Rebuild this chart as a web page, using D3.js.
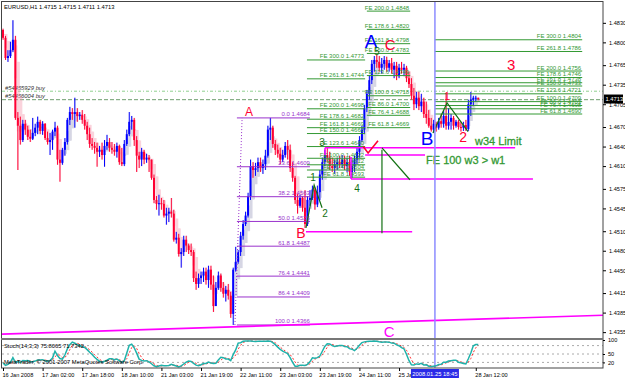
<!DOCTYPE html>
<html>
<head>
<meta charset="utf-8">
<script src="https://cdn.jsdelivr.net/npm/d3@7"></script>
<style>
  html, body { margin: 0; padding: 0; background: #fff; }
  svg { display: block; font-family: "Liberation Sans", Arial, sans-serif; }
</style>
</head>
<body>
<svg id="chart" width="625" height="378"></svg>
<script>
const WIDTH = 625,
      HEIGHT = 378,
      RIGHT = 603,
      MAIN_TOP = 2,
      MAIN_BOTTOM = 338,
      IND_TOP = 340,
      IND_BOTTOM = 368;

// EURUSD H1, one bar per hour from 16 Jan 10:00 (open of each bar = previous close)
const firstOpen = 1.4819;
const highs = [
  1.4821,1.4810,1.4788,1.4801,1.4834,1.4810,1.4693,1.4686,1.4681,1.4681,
  1.4672,1.4666,1.4684,1.4675,1.4686,1.4681,1.4679,1.4676,1.4663,1.4661,
  1.4666,1.4678,1.4672,1.4635,1.4638,1.4653,1.4684,1.4701,1.4699,1.4715,
  1.4699,1.4693,1.4696,1.4690,1.4678,1.4669,1.4653,1.4647,1.4646,1.4641,
  1.4646,1.4650,1.4658,1.4653,1.4647,1.4644,1.4646,1.4643,1.4638,1.4650,
  1.4666,1.4693,1.4687,1.4684,1.4656,1.4632,1.4638,1.4635,1.4629,1.4627,
  1.4620,1.4597,1.4564,1.4566,1.4561,1.4558,1.4546,1.4546,1.4561,1.4543,
  1.4509,1.4506,1.4484,1.4503,1.4503,1.4491,1.4491,1.4481,1.4448,1.4445,
  1.4448,1.4454,1.4454,1.4457,1.4457,1.4442,1.4432,1.4448,1.4445,1.4432,
  1.4426,1.4429,1.4417,1.4454,1.4486,1.4481,1.4509,1.4527,1.4540,1.4569,
  1.4620,1.4616,1.4615,1.4623,1.4623,1.4620,1.4635,1.4672,1.4684,1.4672,
  1.4650,1.4643,1.4638,1.4635,1.4647,1.4650,1.4643,1.4616,1.4595,1.4567,
  1.4566,1.4564,1.4573,1.4564,1.4573,1.4580,1.4577,1.4580,1.4604,1.4623,
  1.4635,1.4638,1.4632,1.4623,1.4620,1.4623,1.4626,1.4627,1.4626,1.4623,
  1.4626,1.4620,1.4626,1.4638,1.4656,1.4672,1.4704,1.4727,1.4750,1.4773,
  1.4779,1.4781,1.4779,1.4776,1.4779,1.4778,1.4773,1.4776,1.4770,1.4770,
  1.4767,1.4770,1.4767,1.4764,1.4755,1.4745,1.4730,1.4724,1.4724,1.4721,
  1.4715,1.4709,1.4696,1.4684,1.4681,1.4678,1.4684,1.4690,1.4696,1.4722,
  1.4699,1.4690,1.4687,1.4681,1.4681,1.4678,1.4678,1.4681,1.4712,1.4724,
  1.4718,1.4718,1.4715
];
const lows = [
  1.4804,1.4773,1.4770,1.4776,1.4785,1.4681,1.4604,1.4643,1.4647,1.4658,
  1.4650,1.4647,1.4650,1.4656,1.4659,1.4659,1.4658,1.4650,1.4643,1.4627,
  1.4635,1.4656,1.4612,1.4586,1.4612,1.4626,1.4643,1.4673,1.4681,1.4669,
  1.4678,1.4681,1.4675,1.4666,1.4650,1.4638,1.4635,1.4629,1.4609,1.4624,
  1.4620,1.4609,1.4635,1.4632,1.4629,1.4626,1.4623,1.4612,1.4610,1.4610,
  1.4641,1.4656,1.4666,1.4641,1.4601,1.4607,1.4610,1.4613,1.4615,1.4601,
  1.4589,1.4553,1.4543,1.4534,1.4543,1.4531,1.4520,1.4524,1.4531,1.4494,
  1.4491,1.4471,1.4454,1.4472,1.4478,1.4475,1.4472,1.4432,1.4420,1.4423,
  1.4429,1.4432,1.4428,1.4423,1.4420,1.4386,1.4405,1.4420,1.4417,1.4408,
  1.4402,1.4405,1.4377,1.4366,1.4448,1.4460,1.4472,1.4497,1.4518,1.4531,
  1.4558,1.4592,1.4595,1.4601,1.4601,1.4598,1.4604,1.4623,1.4650,1.4638,
  1.4627,1.4623,1.4613,1.4616,1.4623,1.4620,1.4601,1.4586,1.4552,1.4537,
  1.4546,1.4540,1.4515,1.4518,1.4549,1.4558,1.4543,1.4547,1.4558,1.4589,
  1.4610,1.4616,1.4604,1.4601,1.4598,1.4604,1.4607,1.4607,1.4604,1.4601,
  1.4595,1.4592,1.4601,1.4613,1.4623,1.4647,1.4659,1.4693,1.4712,1.4736,
  1.4755,1.4761,1.4755,1.4752,1.4758,1.4755,1.4755,1.4752,1.4745,1.4742,
  1.4745,1.4752,1.4748,1.4739,1.4730,1.4712,1.4696,1.4699,1.4696,1.4693,
  1.4684,1.4675,1.4669,1.4663,1.4661,1.4663,1.4666,1.4669,1.4669,1.4666,
  1.4666,1.4666,1.4666,1.4669,1.4666,1.4663,1.4664,1.4664,1.4664,1.4687,
  1.4702,1.4709,1.4711
];
const closes = [
  1.4807,1.4776,1.4779,1.4788,1.4804,1.4684,1.4672,1.4650,1.4675,1.4666,
  1.4655,1.4652,1.4661,1.4669,1.4678,1.4664,1.4675,1.4653,1.4647,1.4650,
  1.4663,1.4669,1.4620,1.4615,1.4635,1.4647,1.4681,1.4693,1.4690,1.4693,
  1.4687,1.4689,1.4681,1.4672,1.4659,1.4644,1.4641,1.4638,1.4632,1.4635,
  1.4627,1.4641,1.4647,1.4638,1.4635,1.4632,1.4641,1.4616,1.4613,1.4644,
  1.4659,1.4678,1.4681,1.4650,1.4626,1.4620,1.4632,1.4620,1.4623,1.4620,
  1.4592,1.4558,1.4552,1.4553,1.4552,1.4534,1.4537,1.4540,1.4537,1.4497,
  1.4500,1.4475,1.4478,1.4497,1.4488,1.4481,1.4478,1.4438,1.4429,1.4438,
  1.4442,1.4448,1.4435,1.4451,1.4428,1.4395,1.4423,1.4442,1.4423,1.4414,
  1.4420,1.4411,1.4383,1.4451,1.4463,1.4478,1.4503,1.4521,1.4534,1.4564,
  1.4610,1.4604,1.4607,1.4616,1.4607,1.4613,1.4626,1.4666,1.4669,1.4644,
  1.4635,1.4629,1.4620,1.4627,1.4641,1.4635,1.4607,1.4592,1.4558,1.4549,
  1.4561,1.4546,1.4521,1.4558,1.4561,1.4574,1.4551,1.4570,1.4597,1.4616,
  1.4627,1.4623,1.4610,1.4607,1.4613,1.4616,1.4613,1.4620,1.4610,1.4616,
  1.4601,1.4610,1.4620,1.4632,1.4650,1.4666,1.4699,1.4721,1.4742,1.4767,
  1.4773,1.4770,1.4761,1.4767,1.4773,1.4761,1.4768,1.4758,1.4764,1.4748,
  1.4761,1.4758,1.4761,1.4745,1.4736,1.4718,1.4705,1.4715,1.4702,1.4709,
  1.4690,1.4684,1.4672,1.4666,1.4675,1.4669,1.4679,1.4675,1.4687,1.4672,
  1.4678,1.4684,1.4672,1.4678,1.4670,1.4669,1.4673,1.4667,1.4705,1.4712,
  1.4715,1.4715,1.4713
];

const yTicks = [1.4830, 1.4800, 1.4765, 1.4735, 1.4705, 1.4670, 1.4640, 1.4610,
                1.4575, 1.4545, 1.4510, 1.4480, 1.4450, 1.4415, 1.4385, 1.4355];
const xTickBars = [0, 16, 32, 48, 64, 80, 96, 112, 128, 144, 160, 191];
const xTickLabels = ['16 Jan 2008', '17 Jan 02:00', '17 Jan 18:00', '18 Jan 10:00', '21 Jan 03:00',
                     '21 Jan 19:00', '22 Jan 11:00', '23 Jan 03:00', '23 Jan 19:00', '24 Jan 11:00',
                     '25 Jan 03:00', '28 Jan 12:00'];

// Fibonacci retracement A-B
const fibLevels = [0.0, 23.6, 38.2, 50.0, 61.8, 76.4, 86.4, 100.0];
const fibPrices = [1.4684, 1.4609, 1.4563, 1.4525, 1.4487, 1.4441, 1.4409, 1.4366];
const fibBars = [94.5, 124];

// Fibonacci expansions
const feLeftLevels = [300.0, 261.8, 200.0, 178.6, 161.8, 150.0, 123.6, 100.0, 86.0, 76.4, 61.8];
const feLeftPrices = [1.4773, 1.4744, 1.4698, 1.4682, 1.4669, 1.4660, 1.4640, 1.4622, 1.4612, 1.4604, 1.4593];
const feLeftBars = [122.8, 146.3];
const feMidLevels = [200.0, 178.6, 161.8, 150.0, 123.6, 100.0, 86.0, 76.4, 61.8];
const feMidPrices = [1.4848, 1.4820, 1.4798, 1.4783, 1.4749, 1.4718, 1.4700, 1.4688, 1.4669];
const feMidBars = [147, 164.5];
const feRightLevels = [300.0, 261.8, 200.0, 178.6, 161.8, 150.0, 123.6, 100.0, 86.0, 76.4, 61.8];
const feRightPrices = [1.4804, 1.4786, 1.4756, 1.4746, 1.4738, 1.4733, 1.4721, 1.4709, 1.4703, 1.4698, 1.4690];
const feRightBars = [174.5, 234];

// limit lines
const limitPrices = [1.4638, 1.4627, 1.4590, 1.4509];
const limitFrom = [130.1, 146.3, 140.6, 122.4];
const limitTo = [206.9, 170.5, 214.1, 165.3];

// wave labels
const waveTexts = ['A', 'B', 'C', 'A', 'C', '5', 'B', '1', '2', '3', '1', '2', '3', '4', 'w34 Limit', 'FE 100  w3 > w1'];
const waveBars = [99.4, 120.4, 156, 148.7, 156.4, 151, 171.3, 179.4, 185.9, 205.3, 125.3, 130.1, 128.9, 143, 190.7, 170.9];
const wavePrices = [1.4687, 1.4500, 1.4348, 1.4791, 1.4788, 1.4781, 1.4643, 1.4712, 1.4647, 1.4758, 1.4587, 1.4532, 1.4641, 1.4570, 1.4643, 1.4613];

const orderNames = ['#54455929 buy', '#54456004 buy'];
const orderPrices = [1.4725, 1.4712];
const lastPrice = 1.4713;
const cursorBar = 174.5;
const cursorLabel = '2008.01.25 18:45';
const trendBars = [-0.4, 242.4], trendPrices = [1.4352, 1.4381];

const RED = '#ff0033', BLUE = '#0000ff', GREEN = '#339933', DKGREEN = '#127012',
      VIOLET = '#9932cc', MAGENTA = '#ff00ff';
const waveStyle = [
  [RED, 12], [RED, 14], [MAGENTA, 15], [BLUE, 19], [RED, 15], [DKGREEN, 10], [BLUE, 19],
  [RED, 10], [RED, 14], [RED, 15], [DKGREEN, 10], [DKGREEN, 10], [DKGREEN, 10], [DKGREEN, 10],
  [GREEN, 11], [GREEN, 11]
];

const svg = d3.select('#chart');
const x = d3.scaleLinear().domain([0, 242.4]).range([3, RIGHT]);
const y = d3.scaleLinear().domain([1.4346, 1.4862]).range([MAIN_BOTTOM, MAIN_TOP]);
const yInd = d3.scaleLinear().domain([0, 100]).range([IND_BOTTOM, IND_TOP]);

svg.append('rect').attr('width', WIDTH).attr('height', HEIGHT).attr('fill', '#fff');

svg.append('clipPath').attr('id', 'mainClip')
  .append('rect').attr('x', 2).attr('y', MAIN_TOP).attr('width', RIGHT - 2).attr('height', MAIN_BOTTOM - MAIN_TOP);

const main = svg.append('g').attr('clip-path', 'url(#mainClip)');

const opens = closes.map((c, i) => i === 0 ? firstOpen : closes[i - 1]);

// order lines
main.selectAll('line.order').data(orderPrices).enter().append('line')
  .attr('x1', 2).attr('x2', RIGHT)
  .attr('y1', d => y(d)).attr('y2', d => y(d))
  .attr('stroke', (d, i) => i === 0 ? '#8fd08f' : '#6f9f6f')
  .attr('stroke-dasharray', (d, i) => i === 0 ? '3,2,1,2' : '4,2');
main.selectAll('text.order').data(orderNames).enter().append('text')
  .attr('x', 5).attr('y', (d, i) => y(orderPrices[i]) - 1.5)
  .attr('font-size', 5.8).attr('font-style', 'italic').attr('fill', '#333').text(d => d);

// heiken ashi ghost bars
const haClose = closes.map((c, i) => (opens[i] + highs[i] + lows[i] + c) / 4);
const haOpen = [];
closes.forEach((c, i) => {
  haOpen.push(i === 0 ? (opens[0] + c) / 2 : (haOpen[i - 1] + haClose[i - 1]) / 2);
});
const ghost = main.append('g').attr('opacity', 0.42);
closes.forEach((c, i) => {
  const up = haClose[i] >= haOpen[i];
  const col = up ? '#a0a0c0' : '#f598ae';
  const hh = Math.max(highs[i], haOpen[i]), ll = Math.min(lows[i], haOpen[i]);
  ghost.append('line').attr('x1', x(i) + 0.5).attr('x2', x(i) + 0.5)
    .attr('y1', y(hh)).attr('y2', y(ll)).attr('stroke', col).attr('stroke-width', 1);
  const top = y(Math.max(haOpen[i], haClose[i])), bot = y(Math.min(haOpen[i], haClose[i]));
  ghost.append('rect').attr('x', x(i) - 1).attr('width', 3)
    .attr('y', top).attr('height', Math.max(1, bot - top)).attr('fill', col);
});

// candles
const bars = main.append('g');
closes.forEach((c, i) => {
  const col = c >= opens[i] ? BLUE : RED;
  bars.append('line').attr('x1', x(i)).attr('x2', x(i))
    .attr('y1', y(highs[i])).attr('y2', y(lows[i])).attr('stroke', col).attr('stroke-width', 1);
  const top = y(Math.max(opens[i], c)), bot = y(Math.min(opens[i], c));
  bars.append('rect').attr('x', x(i) - 1).attr('width', 2)
    .attr('y', top).attr('height', Math.max(1, bot - top)).attr('fill', col);
});

// fibonacci retracement
main.selectAll('line.fib').data(fibPrices).enter().append('line')
  .attr('x1', x(fibBars[0])).attr('x2', x(fibBars[1]))
  .attr('y1', d => y(d)).attr('y2', d => y(d)).attr('stroke', VIOLET);
main.selectAll('text.fib').data(fibLevels).enter().append('text')
  .attr('x', x(fibBars[1])).attr('y', (d, i) => y(fibPrices[i]) - 1.5)
  .attr('text-anchor', 'end').attr('font-size', 6).attr('fill', VIOLET)
  .text((d, i) => d.toFixed(1) + '  ' + fibPrices[i].toFixed(4));
main.append('line')
  .attr('x1', x(93.7)).attr('y1', y(fibPrices[7])).attr('x2', x(96.6)).attr('y2', y(fibPrices[0]))
  .attr('stroke', VIOLET).attr('stroke-dasharray', '1,2');

// fibonacci expansions
function drawFE(levels, prices, range) {
  const g = main.append('g');
  g.selectAll('line').data(prices).enter().append('line')
    .attr('x1', x(range[0])).attr('x2', x(range[1]))
    .attr('y1', d => y(d)).attr('y2', d => y(d)).attr('stroke', GREEN);
  g.selectAll('text').data(levels).enter().append('text')
    .attr('x', x(range[1]) - 1).attr('y', (d, i) => y(prices[i]) - 1.5)
    .attr('text-anchor', 'end').attr('font-size', 6).attr('fill', GREEN)
    .text((d, i) => 'FE ' + d.toFixed(1) + '  ' + prices[i].toFixed(4));
}
drawFE(feLeftLevels, feLeftPrices, feLeftBars);
drawFE(feMidLevels, feMidPrices, feMidBars);
drawFE(feRightLevels, feRightPrices, feRightBars);

// limit lines (magenta)
main.selectAll('line.limit').data(limitPrices).enter().append('line')
  .attr('x1', (d, i) => x(limitFrom[i])).attr('x2', (d, i) => x(limitTo[i]))
  .attr('y1', d => y(d)).attr('y2', d => y(d))
  .attr('stroke', MAGENTA).attr('stroke-width', 1.5);
main.append('line').attr('x1', x(130.1)).attr('x2', x(130.1))
  .attr('y1', y(1.4638)).attr('y2', y(1.4627)).attr('stroke', MAGENTA).attr('stroke-width', 1.5);
main.append('line').attr('x1', x(140.6)).attr('x2', x(140.6))
  .attr('y1', y(1.4624)).attr('y2', y(1.4590)).attr('stroke', MAGENTA).attr('stroke-width', 1.5);

// long trendline
main.append('line')
  .attr('x1', x(trendBars[0])).attr('y1', y(trendPrices[0]))
  .attr('x2', x(trendBars[1])).attr('y2', y(trendPrices[1]))
  .attr('stroke', MAGENTA).attr('stroke-width', 1.6);

// wave drawings
const line = d3.line().x(d => x(d[0])).y(d => y(d[1]));
main.append('path').attr('d', line([[173.7, 1.4661], [179.4, 1.4707], [187.9, 1.4663]]))
  .attr('fill', 'none').attr('stroke', DKGREEN).attr('stroke-width', 1.2);
main.append('path').attr('d', line([[122.4, 1.4515], [125.7, 1.4581], [128.9, 1.4546]]))
  .attr('fill', 'none').attr('stroke', DKGREEN).attr('stroke-width', 1.2);
main.append('path').attr('d', line([[153.1, 1.4638], [164.4, 1.4589]]))
  .attr('fill', 'none').attr('stroke', DKGREEN).attr('stroke-width', 1.2);
main.append('path').attr('d', line([[153.1, 1.4635], [153.1, 1.4507]]))
  .attr('fill', 'none').attr('stroke', DKGREEN).attr('stroke-width', 1.2);
main.append('path').attr('d', line([[145.5, 1.4640], [147.5, 1.4630], [151.5, 1.4649]]))
  .attr('fill', 'none').attr('stroke', RED).attr('stroke-width', 1.6);

main.selectAll('text.wave').data(waveTexts).enter().append('text')
  .attr('x', (d, i) => x(waveBars[i])).attr('y', (d, i) => y(wavePrices[i]))
  .attr('text-anchor', (d, i) => i >= 14 ? 'start' : 'middle')
  .attr('font-size', (d, i) => waveStyle[i][1])
  .attr('fill', (d, i) => waveStyle[i][0])
  .attr('stroke', (d, i) => i >= 14 ? waveStyle[i][0] : 'none')
  .attr('stroke-width', 0.3)
  .text(d => d);

// header
svg.append('text').attr('x', 4).attr('y', 9).attr('font-size', 5.8).attr('fill', '#000')
  .text('EURUSD,H1  1.4715 1.4715 1.4711 1.4713');

// cursor line
svg.append('line').attr('x1', x(cursorBar)).attr('x2', x(cursorBar))
  .attr('y1', 1).attr('y2', IND_BOTTOM).attr('stroke', '#8c8cff').attr('stroke-width', 1.5);

// stochastic
const kRaw = closes.map((c, i) => {
  const s = Math.max(0, i - 13);
  const hh = d3.max(highs.slice(s, i + 1)), ll = d3.min(lows.slice(s, i + 1));
  return { num: c - ll, den: hh - ll };
});
const kMain = kRaw.map((d, i) => {
  const part = kRaw.slice(Math.max(0, i - 2), i + 1);
  const den = d3.sum(part, p => p.den);
  return den ? d3.sum(part, p => p.num) / den * 100 : 50;
});
const kSig = kMain.map((d, i) => d3.mean(kMain.slice(Math.max(0, i - 2), i + 1)));

[80, 50, 20].forEach(l => {
  svg.append('line').attr('x1', 2).attr('x2', RIGHT).attr('y1', yInd(l)).attr('y2', yInd(l))
    .attr('stroke', '#aaa').attr('stroke-dasharray', '2,3');
});
const sLine = d3.line().x((d, i) => x(i)).y(d => yInd(d));
svg.append('path').attr('d', sLine(kSig)).attr('fill', 'none')
  .attr('stroke', '#ff3030').attr('stroke-dasharray', '2,2');
svg.append('path').attr('d', sLine(kMain)).attr('fill', 'none')
  .attr('stroke', '#20b2aa').attr('stroke-width', 1.5);
svg.append('text').attr('x', 4).attr('y', 348).attr('font-size', 5.8).attr('fill', '#000')
  .text('Stoch(14,3,3) 75.8065 71.7342');
svg.append('text').attr('x', 4).attr('y', 364).attr('font-size', 5.8).attr('fill', '#000')
  .text('MetaTrader, \u00a9 2001-2007 MetaQuotes Software Corp.');

// frame
svg.append('rect').attr('x', 1.5).attr('y', 1.5).attr('width', RIGHT - 1.5).attr('height', IND_BOTTOM - 1.5)
  .attr('fill', 'none').attr('stroke', '#444');
svg.append('line').attr('x1', 1).attr('x2', RIGHT).attr('y1', 339).attr('y2', 339)
  .attr('stroke', '#777').attr('stroke-width', 2);

// axes
const yAxis = d3.axisRight(y).tickValues(yTicks).tickFormat(d3.format('.4f')).tickSize(3);
const yg = svg.append('g').attr('transform', `translate(${RIGHT},0)`).call(yAxis);
yg.select('.domain').remove();
yg.selectAll('text').attr('font-size', 5.6).attr('font-family', 'Liberation Sans, Arial').attr('fill', '#000');

const indAxis = d3.axisRight(yInd).tickValues([100, 50, 20]).tickSize(2);
const ig = svg.append('g').attr('transform', `translate(${RIGHT},0)`).call(indAxis);
ig.select('.domain').remove();
ig.selectAll('text').attr('font-size', 5.6).attr('font-family', 'Liberation Sans, Arial').attr('fill', '#000');

const xAxis = d3.axisBottom(x).tickValues(xTickBars).tickFormat((d, i) => xTickLabels[i]).tickSize(3);
const xg = svg.append('g').attr('transform', `translate(0,${IND_BOTTOM})`).call(xAxis);
xg.select('.domain').remove();
xg.selectAll('text').attr('font-size', 5.6).attr('font-family', 'Liberation Sans, Arial')
  .attr('text-anchor', 'start').attr('dx', -1).attr('y', 5).attr('fill', '#000');

// last price tag
svg.append('rect').attr('x', RIGHT + 1).attr('y', y(lastPrice) - 4.5).attr('width', 19).attr('height', 9).attr('fill', '#000');
svg.append('text').attr('x', RIGHT + 2.5).attr('y', y(lastPrice) + 2).attr('font-size', 5.8).attr('fill', '#fff').text(lastPrice.toFixed(4));

// cursor time tag
const cx = x(cursorBar);
svg.append('rect').attr('x', cx - 24).attr('y', IND_BOTTOM + 1).attr('width', 48).attr('height', 9).attr('fill', '#2a2ae8');
svg.append('text').attr('x', cx).attr('y', IND_BOTTOM + 7.5).attr('text-anchor', 'middle')
  .attr('font-size', 5.8).attr('fill', '#fff').text(cursorLabel);
</script>
</body>
</html>
